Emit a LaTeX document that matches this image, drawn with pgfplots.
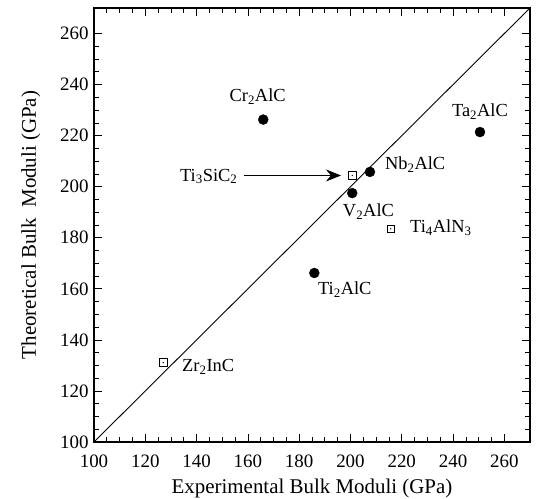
\documentclass[border=0pt]{standalone}
\usepackage{fontspec}
\setmainfont{Liberation Serif}
\usepackage{pgfplots}
\pgfplotsset{compat=1.18}
\usetikzlibrary{arrows.meta}
\begin{document}
\begin{tikzpicture}
\begin{axis}[
  name=ax,
  scale only axis, width=436bp, height=434bp,
  xmin=100, xmax=270, ymin=100, ymax=270,
  xtick={100,120,...,260}, ytick={100,120,...,260},
  minor tick num=3,
  tick align=inside,
  major tick length=8bp, minor tick length=5bp,
  axis line style={line width=1.1bp},
  every tick/.style={black, line width=0.7bp},
  /pgf/number format/assume math mode=true,
  xticklabel={\pgfmathprintnumber{\tick}},
  yticklabel={\pgfmathprintnumber{\tick}},
  tick label style={font=\rmfamily\fontsize{19}{21}\selectfont},
  xticklabel style={yshift=-9bp},
  yticklabel style={xshift=-2bp},
  label style={font=\rmfamily\fontsize{21}{23}\selectfont},
  xlabel={Experimental Bulk Moduli (GPa)},
  ylabel={Theoretical Bulk\ \ Moduli (GPa)},
  xlabel style={yshift=-5bp},
  ylabel style={yshift=13bp},
  clip=false,
]
\addplot[black, line width=0.9bp] coordinates {(100,100) (270,270)};
% filled circles
\addplot[only marks, mark=*, mark size=5bp, black] coordinates {
  (166,226.3) (250.5,221.4) (207.6,205.8) (200.7,197.5) (185.9,166.2)};
% open squares
\addplot[only marks, mark=square, mark size=3.8bp, black, mark options={line width=0.7bp}] coordinates {
  (200.7,204.4) (215.7,183.5) (127,131.1)};
\addplot[only marks, mark=*, mark size=0.4bp, black] coordinates {
  (200.7,204.4) (215.7,183.5) (127,131.1)};
\draw[black, line width=0.7bp, -{Stealth[length=15bp, width=12bp, inset=5bp]}] (axis cs:158.3,204.4) -- (axis cs:196.3,204.4);
\begin{scope}[every node/.style={font=\rmfamily\fontsize{18.5}{20}\selectfont, inner sep=0pt}]
\node[anchor=center] at (axis cs:163.8,235.3) {Cr\textsubscript{2}AlC};
\node[anchor=center] at (axis cs:250.5,229.4) {Ta\textsubscript{2}AlC};
\node[anchor=west] at (axis cs:213.4,208.6) {Nb\textsubscript{2}AlC};
\node[anchor=west] at (axis cs:197,190.2) {V\textsubscript{2}AlC};
\node[anchor=west] at (axis cs:223.2,184) {Ti\textsubscript{4}AlN\textsubscript{3}};
\node[anchor=west] at (axis cs:187.3,159.6) {Ti\textsubscript{2}AlC};
\node[anchor=west] at (axis cs:134.3,129.4) {Zr\textsubscript{2}InC};
\node[anchor=east] at (axis cs:156,204) {Ti\textsubscript{3}SiC\textsubscript{2}};
\end{scope}
\end{axis}
\pgfresetboundingbox
\path ([xshift=-94bp,yshift=-57bp]ax.south west) rectangle ([xshift=7bp,yshift=8bp]ax.north east);
\end{tikzpicture}
\end{document}
